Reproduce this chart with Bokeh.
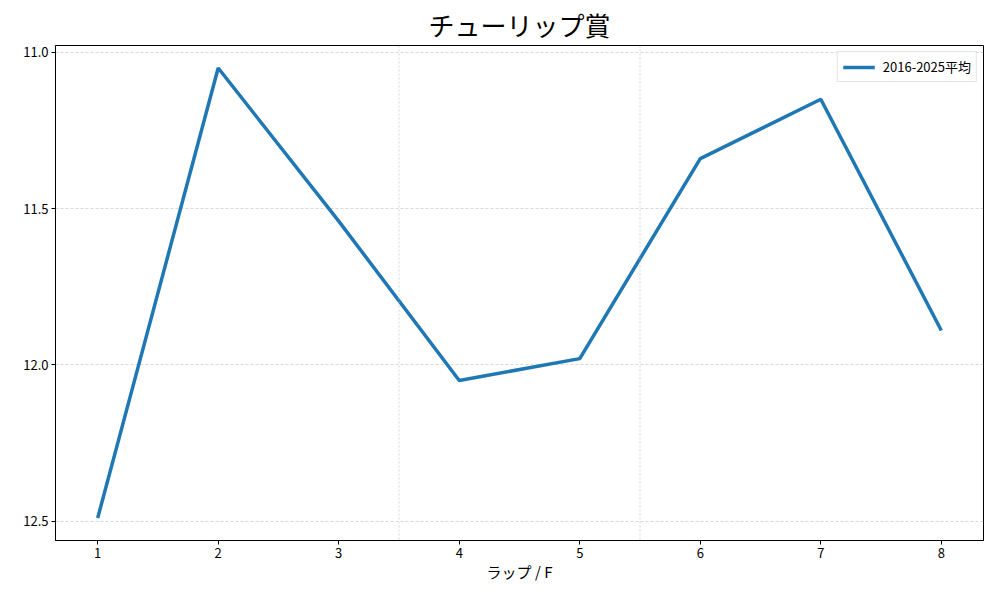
from bokeh.plotting import figure
from bokeh.models import Range1d, Span, Legend, LegendItem, FixedTicker, NumeralTickFormatter
from bokeh.embed import file_html
from bokeh.resources import INLINE

laps = [1, 2, 3, 4, 5, 6, 7, 8]
avg_times = [12.49, 11.05, 11.54, 12.05, 11.98, 11.34, 11.15, 11.89]
series_name = "2016-2025平均"
title_text = "チューリップ賞"
x_label = "ラップ / F"
y_ticks = [11.0, 11.5, 12.0, 12.5]
section_marks = [3.5, 5.5]

FONT = "Noto Sans CJK JP"

xpad = (max(laps) - min(laps)) * 0.05
ypad = (max(avg_times) - min(avg_times)) * 0.05

p = figure(width=984, height=584, output_backend="svg", toolbar_location=None,
           x_range=Range1d(min(laps) - xpad, max(laps) + xpad),
           y_range=Range1d(max(avg_times) + ypad, min(avg_times) - ypad),
           min_border_left=55, min_border_right=1, min_border_top=45, min_border_bottom=44)

p.title.text = title_text
p.title.align = "center"
p.title.text_font = FONT
p.title.text_font_size = "26px"
p.title.text_font_style = "normal"
p.title.text_color = "black"
p.title.offset = 0
p.title.standoff = 5

r = p.line(laps, avg_times, line_width=3.5, line_color="#1f77b4")

for xv in section_marks:
    p.add_layout(Span(location=xv, dimension="height", line_color="#bbbbbb",
                      line_width=0.6, line_dash="2 2"))

p.xgrid.visible = False
p.ygrid.grid_line_color = "#b0b0b0"
p.ygrid.grid_line_width = 0.5
p.ygrid.grid_line_dash = "3 2"
p.yaxis.ticker = FixedTicker(ticks=y_ticks)
p.xaxis.ticker = FixedTicker(ticks=laps)
p.yaxis.formatter = NumeralTickFormatter(format="0.0")

for ax in (p.xaxis[0], p.yaxis[0]):
    ax.major_label_text_font = FONT
    ax.major_label_text_font_size = "13px"
    ax.major_label_text_color = "black"
    ax.axis_line_color = "black"
    ax.axis_line_width = 1
    ax.major_tick_line_color = "black"
    ax.major_tick_in = 0
    ax.major_tick_out = 4
    ax.minor_tick_line_color = None
    ax.major_label_standoff = 3

p.xaxis.axis_label = x_label
p.xaxis.axis_label_text_font = FONT
p.xaxis.axis_label_text_font_size = "15px"
p.xaxis.axis_label_text_font_style = "normal"
p.xaxis.axis_label_text_color = "black"
p.xaxis.axis_label_standoff = 0

p.outline_line_color = "black"
p.outline_line_width = 1
p.background_fill_color = "white"
p.border_fill_color = "white"

legend = Legend(items=[LegendItem(label=series_name, renderers=[r])], location="top_right",
                label_text_font=FONT, label_text_font_size="13px", label_text_color="black",
                border_line_color="#cccccc", border_line_width=1,
                background_fill_alpha=0.9, glyph_width=32, glyph_height=10,
                padding=5, spacing=0, margin=6, label_standoff=8, label_height=14)
p.add_layout(legend)

open("out.html", "w").write(file_html(p, INLINE))
